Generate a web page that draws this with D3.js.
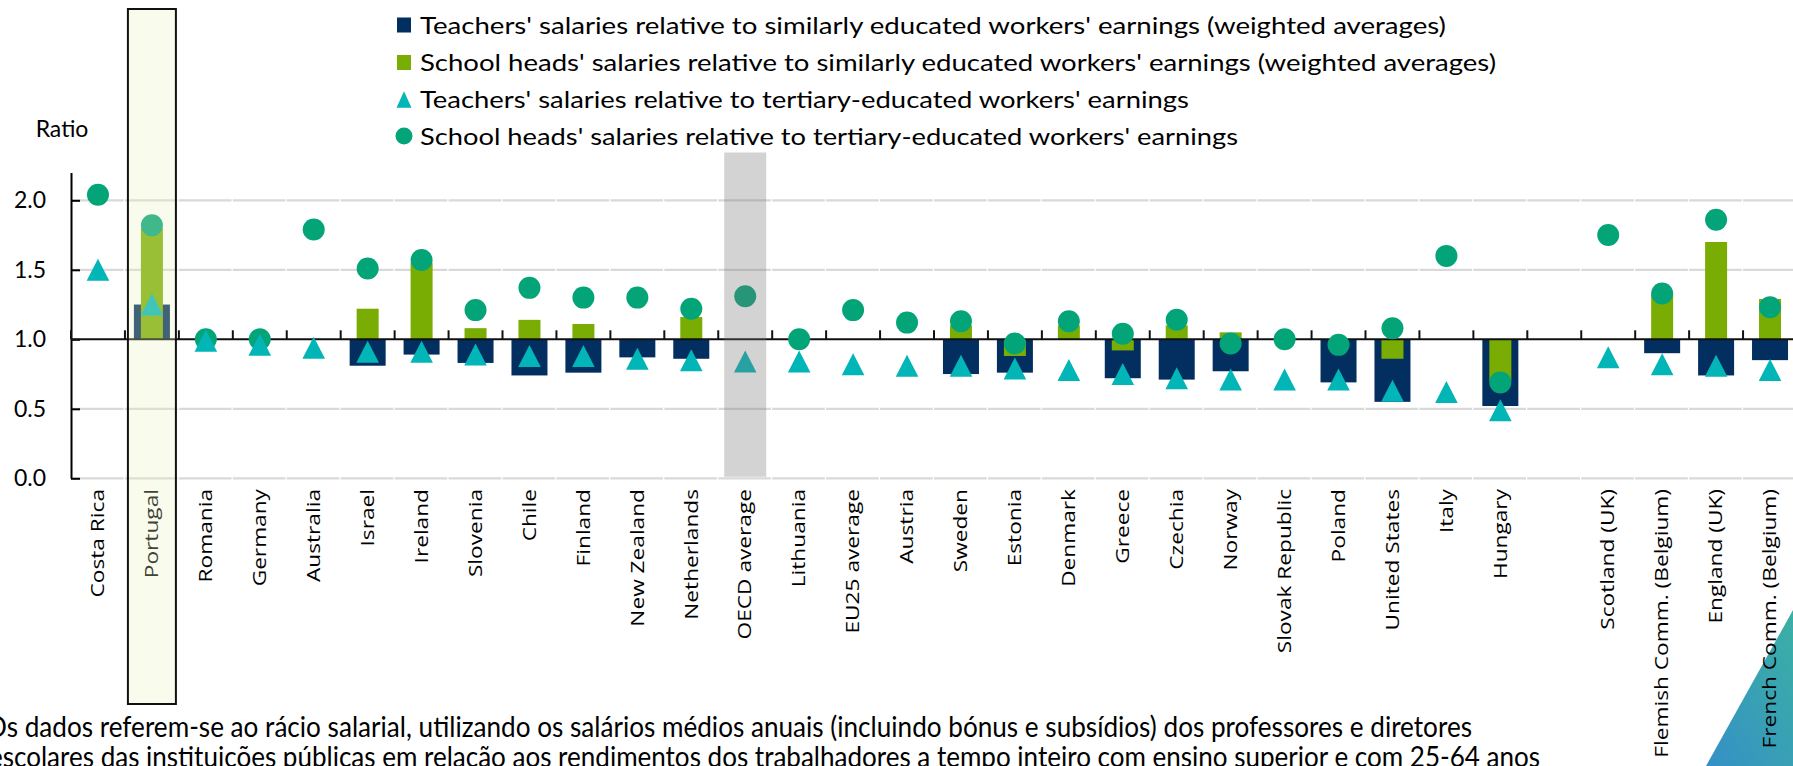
<!DOCTYPE html>
<html>
<head>
<meta charset="utf-8">
<script src="https://cdn.jsdelivr.net/npm/d3@7"></script>
<style>
  html, body { margin: 0; padding: 0; background: #ffffff; overflow: hidden; }
  svg { display: block; }
</style>
</head>
<body>
<svg id="chart" width="1793" height="766"></svg>
<script>
// Categories along the x axis ("" is the spacer before the UK / Belgian sub-systems)
const categories = ["Costa Rica", "Portugal", "Romania", "Germany", "Australia", "Israel", "Ireland",
  "Slovenia", "Chile", "Finland", "New Zealand", "Netherlands", "OECD average", "Lithuania",
  "EU25 average", "Austria", "Sweden", "Estonia", "Denmark", "Greece", "Czechia", "Norway",
  "Slovak Republic", "Poland", "United States", "Italy", "Hungary", "",
  "Scotland (UK)", "Flemish Comm. (Belgium)", "England (UK)", "French Comm. (Belgium)"];

// Teachers' salaries relative to similarly educated workers' earnings (weighted averages)
const teachersSimilar = [null, 1.25, null, null, null, 0.81, 0.89,
  0.83, 0.74, 0.76, 0.87, 0.86, null, null,
  null, null, 0.75, 0.76, null, 0.72, 0.71, 0.77,
  null, 0.69, 0.55, null, 0.52, null,
  null, 0.90, 0.74, 0.85];

// School heads' salaries relative to similarly educated workers' earnings (weighted averages)
const headsSimilar = [null, 1.80, null, null, null, 1.22, 1.55,
  1.08, 1.14, 1.11, null, 1.16, null, null,
  null, null, 1.10, 0.88, 1.10, 0.92, 1.10, 1.05,
  null, null, 0.86, null, 0.70, null,
  null, 1.32, 1.70, 1.29];

// Teachers' salaries relative to tertiary-educated workers' earnings
const teachersTertiary = [1.50, 1.25, 0.99, 0.96, 0.94, 0.91, 0.91,
  0.89, 0.88, 0.88, 0.86, 0.85, 0.84, 0.84,
  0.82, 0.81, 0.81, 0.79, 0.78, 0.75, 0.72, 0.71,
  0.71, 0.71, 0.63, 0.62, 0.49, null,
  0.87, 0.82, 0.81, 0.78];

// School heads' salaries relative to tertiary-educated workers' earnings
const headsTertiary = [2.04, 1.82, 1.00, 1.00, 1.79, 1.51, 1.57,
  1.21, 1.37, 1.30, 1.30, 1.22, 1.31, 1.00,
  1.21, 1.12, 1.13, 0.97, 1.13, 1.04, 1.14, 0.97,
  1.00, 0.96, 1.08, 1.60, 0.69, null,
  1.75, 1.33, 1.86, 1.23];

const yTicks = [0, 0.5, 1.0, 1.5, 2.0];
const yTickLabels = ["0.0", "0.5", "1.0", "1.5", "2.0"];

const legendItems = [
  "Teachers' salaries relative to similarly educated workers' earnings (weighted averages)",
  "School heads' salaries relative to similarly educated workers' earnings (weighted averages)",
  "Teachers' salaries relative to tertiary-educated workers' earnings",
  "School heads' salaries relative to tertiary-educated workers' earnings"
];

const noteLines = [
  "Os dados referem-se ao rácio salarial, utilizando os salários médios anuais (incluindo bónus e subsídios) dos professores e diretores",
  "escolares das instituições públicas em relação aos rendimentos dos trabalhadores a tempo inteiro com ensino superior e com 25-64 anos"
];

const highlightCountry = "Portugal";
const averageCategory = "OECD average";

// ---- styling ----
const C_NAVY = "#022f5f";
const C_GREEN = "#7aad03";
const C_CIRCLE = "#04a479";
const C_TRI = "#02b5b6";
const SANS = "Lato, 'Open Sans', sans-serif";
const LABEL_FONT = "'Open Sans', 'Noto Sans', sans-serif";

const svg = d3.select("#chart");
const defs = svg.append("defs");

const plotLeft = 71, plotRight = 1797;
const x = d3.scaleBand().domain(categories).range([plotLeft, plotRight]).padding(0);
const y = d3.scaleLinear().domain([0, 2.2]).range([478.3, 172.5]);
const bw = x.bandwidth();
const cx = c => x(c) + bw / 2;

const rows = categories.map((c, i) => ({
  c, ts: teachersSimilar[i], hs: headsSimilar[i], tt: teachersTertiary[i], ht: headsTertiary[i]
}));

// ---- horizontal gridlines (broken at each category boundary) ----
svg.append("g").selectAll("line")
  .data(yTicks.filter(t => t !== 1))
  .join("line")
  .attr("x1", plotLeft).attr("x2", plotRight)
  .attr("y1", d => y(d)).attr("y2", d => y(d))
  .attr("stroke", "#d9d9d9").attr("stroke-width", 2.2)
  .attr("stroke-dasharray", `${bw - 1.3},1.3`);

// ---- bars, drawn from the 1.0 baseline ----
const navyW = 36, greenW = 22;
svg.append("g").selectAll("rect")
  .data(rows.filter(r => r.ts != null))
  .join("rect")
  .attr("x", r => cx(r.c) - navyW / 2)
  .attr("width", navyW)
  .attr("y", r => Math.min(y(r.ts), y(1)))
  .attr("height", r => Math.abs(y(r.ts) - y(1)))
  .attr("fill", C_NAVY);

svg.append("g").selectAll("rect")
  .data(rows.filter(r => r.hs != null))
  .join("rect")
  .attr("x", r => cx(r.c) - greenW / 2)
  .attr("width", greenW)
  .attr("y", r => Math.min(y(r.hs), y(1)))
  .attr("height", r => Math.abs(y(r.hs) - y(1)))
  .attr("fill", C_GREEN);

// ---- y axis (ticks point into the plot) ----
const yAxis = d3.axisLeft(y)
  .tickValues(yTicks)
  .tickFormat((d, i) => yTickLabels[i])
  .tickSizeInner(-9)
  .tickSizeOuter(0)
  .tickPadding(25);
const yg = svg.append("g").attr("transform", `translate(${plotLeft},0)`).call(yAxis);
yg.select(".domain").attr("stroke", "#000").attr("stroke-width", 2);
yg.selectAll(".tick line").attr("stroke", "#000").attr("stroke-width", 2);
yg.selectAll(".tick text")
  .attr("font-family", SANS).attr("font-size", 23).attr("fill", "#000");

svg.append("text")
  .attr("x", 62).attr("y", 137)
  .attr("text-anchor", "middle")
  .attr("font-family", SANS).attr("font-size", 23).attr("fill", "#000")
  .text("Ratio");

// ---- category axis crossing at 1.0 ----
const xg = svg.append("g");
xg.append("line")
  .attr("x1", plotLeft).attr("x2", plotRight)
  .attr("y1", y(1)).attr("y2", y(1))
  .attr("stroke", "#111").attr("stroke-width", 2);
xg.selectAll("line.tick")
  .data(categories.map(c => x(c)).concat([plotRight]))
  .join("line").attr("class", "tick")
  .attr("x1", d => d).attr("x2", d => d)
  .attr("y1", y(1)).attr("y2", y(1) - 9)
  .attr("stroke", "#111").attr("stroke-width", 2);

// ---- markers ----
svg.append("g").selectAll("circle")
  .data(rows.filter(r => r.ht != null))
  .join("circle")
  .attr("cx", r => cx(r.c)).attr("cy", r => y(r.ht))
  .attr("r", 11)
  .attr("fill", C_CIRCLE);

const triPath = (w, h) => `M0,${-h / 2}L${w / 2},${h / 2}L${-w / 2},${h / 2}Z`;
svg.append("g").selectAll("path")
  .data(rows.filter(r => r.tt != null))
  .join("path")
  .attr("transform", r => `translate(${cx(r.c)},${y(r.tt)})`)
  .attr("d", triPath(22.6, 22))
  .attr("fill", C_TRI);

// ---- decorative corner ----
const grad = defs.append("linearGradient").attr("id", "cornerGrad")
  .attr("x1", "1").attr("y1", "0").attr("x2", "0").attr("y2", "1");
grad.append("stop").attr("offset", "0%").attr("stop-color", "#3bb0a4");
grad.append("stop").attr("offset", "100%").attr("stop-color", "#3590c6");
svg.append("polygon")
  .attr("points", "1706,766 1793,610 1793,766")
  .attr("fill", "url(#cornerGrad)");

// ---- category labels ----
svg.append("g").selectAll("text")
  .data(categories.filter(c => c !== ""))
  .join("text")
  .attr("transform", c => `translate(${cx(c)},489) scale(1,1.275) rotate(-90)`)
  .attr("text-anchor", "end")
  .attr("dy", "0.35em")
  .attr("font-family", LABEL_FONT).attr("font-size", 17.8).attr("fill", "#000")
  .text(c => c);

// ---- highlight bands ----
const avgW = 42;
svg.append("rect")
  .attr("x", cx(averageCategory) - avgW / 2).attr("width", avgW)
  .attr("y", y(2.2) - 20).attr("height", y(0) - 1.5 - (y(2.2) - 20))
  .attr("fill", "#777777").attr("fill-opacity", 0.32);

const hlW = 48, hlTop = 9, hlBottom = 704;
svg.append("rect")
  .attr("x", cx(highlightCountry) - hlW / 2).attr("width", hlW)
  .attr("y", hlTop).attr("height", hlBottom - hlTop)
  .attr("fill", "rgb(232,240,190)").attr("fill-opacity", 0.27);
svg.append("rect")
  .attr("x", cx(highlightCountry) - hlW / 2).attr("width", hlW)
  .attr("y", hlTop).attr("height", hlBottom - hlTop)
  .attr("fill", "none").attr("stroke", "#111").attr("stroke-width", 2);

// ---- legend ----
const legendX = 397, legendTextX = 420;
const legendRowsY = [25, 62.5, 99.5, 136];
const legendLens = [1026, 1076, 769, 818];
const lg = svg.append("g");
legendItems.forEach((t, i) => {
  const yy = legendRowsY[i];
  if (i === 0 || i === 1) {
    lg.append("rect").attr("x", legendX).attr("y", yy - 7.5).attr("width", 14).attr("height", 15)
      .attr("fill", i === 0 ? C_NAVY : C_GREEN);
  } else if (i === 2) {
    lg.append("path").attr("transform", `translate(${legendX + 7},${yy})`)
      .attr("d", triPath(15, 16.5)).attr("fill", C_TRI);
  } else {
    lg.append("circle").attr("cx", legendX + 7).attr("cy", yy).attr("r", 8.5).attr("fill", C_CIRCLE);
  }
  lg.append("text")
    .attr("x", legendTextX).attr("y", yy).attr("dy", "0.36em")
    .attr("font-family", SANS).attr("font-size", 24).attr("fill", "#000")
    .attr("textLength", legendLens[i]).attr("lengthAdjust", "spacingAndGlyphs")
    .text(t);
});

// ---- note ----
const noteX = [-14, -11];
const noteY = [737, 767];
const noteLens = [1486, 1551];
noteLines.forEach((t, i) => {
  svg.append("text")
    .attr("x", noteX[i]).attr("y", noteY[i])
    .attr("font-family", SANS).attr("font-size", 28).attr("fill", "#000")
    .attr("textLength", noteLens[i]).attr("lengthAdjust", "spacingAndGlyphs")
    .text(t);
});
</script>
</body>
</html>
